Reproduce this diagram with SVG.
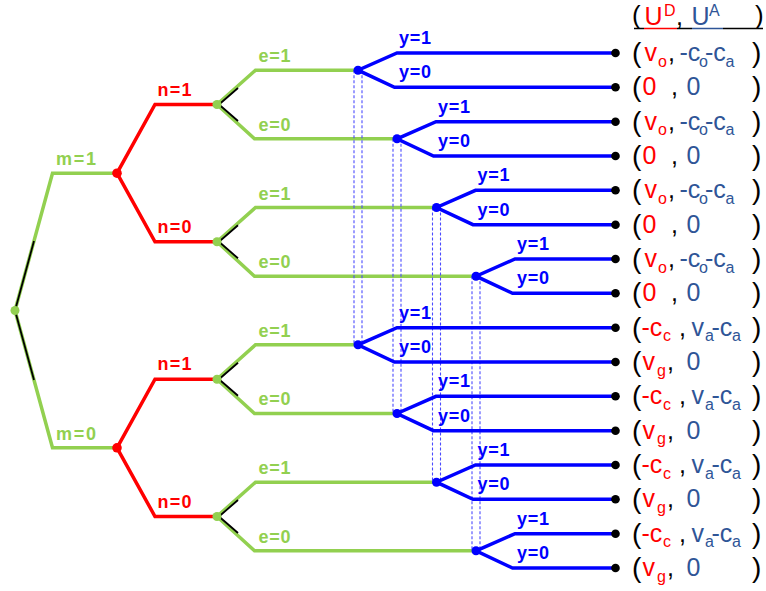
<svg xmlns="http://www.w3.org/2000/svg" width="766" height="591" viewBox="0 0 766 591">
<style>
.g{fill:none;stroke:#92D050;stroke-width:3.5;stroke-linejoin:miter}
.r{fill:none;stroke:#FF0000;stroke-width:3.5}
.b{fill:none;stroke:#0000FF;stroke-width:3.5}
.k{fill:none;stroke:#000;stroke-width:1.8}
.d{fill:none;stroke:#4B4BFF;stroke-width:1.1;stroke-dasharray:3 2}
.lbl{font-family:"Liberation Sans",Arial,sans-serif;font-weight:bold;font-size:18px}
.lg{fill:#92D050}.lr{fill:#FF0000}.lb{fill:#0000FF}
.pay{font-family:"Liberation Sans",Arial,sans-serif;font-size:25px}
.par{font-size:28px;fill:#000}
.hpar{font-size:26px;fill:#000}
.pr{fill:#FF0000}.pb{fill:#2F5597}.pk{fill:#000}
.sub{font-size:16px}
</style>
<g id="connectors">
  <path class="g" d="M15,310.5 L52.5,173.2 L117,173.2"/>
  <path class="g" d="M15,310.5 L52.5,447.8 L117,447.8"/>
  <path class="k" d="M15.5,308.7 L34,241 M15.5,312.3 L34,380"/>
  <path class="r" d="M117,173.2 L155,104.5 L217,104.5 M117,173.2 L155,241.8 L217,241.8"/>
  <path class="r" d="M117,447.8 L155,379.2 L217,379.2 M117,447.8 L155,516.5 L217,516.5"/>
  <path class="g" d="M217,104.5 L255.5,70.2 L358,70.2 M217,104.5 L254.5,138.8 L397,138.8"/>
  <path class="g" d="M217,241.8 L255.5,207.5 L436.5,207.5 M217,241.8 L254.5,276.2 L476,276.2"/>
  <path class="g" d="M217,379.2 L255.5,344.8 L358,344.8 M217,379.2 L254.5,413.5 L397,413.5"/>
  <path class="g" d="M217,516.5 L255.5,482.2 L436.5,482.2 M217,516.5 L254.5,550.8 L476,550.8"/>
  <path class="k" d="M219,104.5 L238,88 M219,104.5 L238,121"/>
  <path class="k" d="M219,241.8 L238,225.3 M219,241.8 L238,258.3"/>
  <path class="k" d="M219,379.2 L238,362.7 M219,379.2 L238,395.7"/>
  <path class="k" d="M219,516.5 L238,500 M219,516.5 L238,533"/>
  <path class="d" d="M354,70.2 V344.8 M362,70.2 V344.8"/>
  <path class="d" d="M393,138.8 V413.5 M401,138.8 V413.5"/>
  <path class="d" d="M432.5,207.5 V482.2 M440.5,207.5 V482.2"/>
  <path class="d" d="M472,276.2 V550.8 M480,276.2 V550.8"/>
  <path class="b" d="M612,53 L397,53 L358,70.2 L394.5,87.3 L612,87.3"/>
  <path class="b" d="M612,121.7 L436,121.7 L397,138.8 L433.5,156 L612,156"/>
  <path class="b" d="M612,190.3 L475.5,190.3 L436.5,207.5 L473,224.7 L612,224.7"/>
  <path class="b" d="M612,259 L515,259 L476,276.2 L512.5,293.3 L612,293.3"/>
  <path class="b" d="M612,327.7 L397,327.7 L358,344.8 L394.5,362 L612,362"/>
  <path class="b" d="M612,396.3 L436,396.3 L397,413.5 L433.5,430.7 L612,430.7"/>
  <path class="b" d="M612,465 L475.5,465 L436.5,482.2 L473,499.3 L612,499.3"/>
  <path class="b" d="M612,533.7 L515,533.7 L476,550.8 L512.5,568 L612,568"/>
  <g class="lbl lg">
    <text x="56" y="165" textLength="40">m=1</text>
    <text x="56" y="439.5" textLength="40">m=0</text>
    <text x="258.5" y="62" textLength="32">e=1</text>
    <text x="258.5" y="130.5" textLength="32">e=0</text>
    <text x="258.5" y="199.5" textLength="32">e=1</text>
    <text x="258.5" y="268" textLength="32">e=0</text>
    <text x="258.5" y="336.5" textLength="32">e=1</text>
    <text x="258.5" y="405" textLength="32">e=0</text>
    <text x="258.5" y="474" textLength="32">e=1</text>
    <text x="258.5" y="542.5" textLength="32">e=0</text>
  </g>
  <g class="lbl lr">
    <text x="157.5" y="95.5" textLength="34">n=1</text>
    <text x="157.5" y="233" textLength="34">n=0</text>
    <text x="157.5" y="370" textLength="34">n=1</text>
    <text x="157.5" y="507.5" textLength="34">n=0</text>
  </g>
  <g class="lbl lb">
    <text x="399" y="44" textLength="32">y=1</text>
    <text x="399" y="78.3" textLength="32">y=0</text>
    <text x="438" y="112.7" textLength="32">y=1</text>
    <text x="438" y="147" textLength="32">y=0</text>
    <text x="477.5" y="181.3" textLength="32">y=1</text>
    <text x="477.5" y="215.7" textLength="32">y=0</text>
    <text x="517" y="250" textLength="32">y=1</text>
    <text x="517" y="284.3" textLength="32">y=0</text>
    <text x="399" y="318.7" textLength="32">y=1</text>
    <text x="399" y="353" textLength="32">y=0</text>
    <text x="438" y="387.3" textLength="32">y=1</text>
    <text x="438" y="421.7" textLength="32">y=0</text>
    <text x="477.5" y="456" textLength="32">y=1</text>
    <text x="477.5" y="490.3" textLength="32">y=0</text>
    <text x="517" y="524.7" textLength="32">y=1</text>
    <text x="517" y="559" textLength="32">y=0</text>
  </g>
</g>
<g id="root"><circle cx="15" cy="310.5" r="4.5" fill="#92D050"/></g>
<g id="m-nodes" fill="#FF0000">
  <circle cx="117" cy="173.2" r="4.8"/>
  <circle cx="117" cy="447.8" r="4.8"/>
</g>
<g id="n-nodes" fill="#92D050">
  <circle cx="217" cy="104.5" r="4.5"/>
  <circle cx="217" cy="241.8" r="4.5"/>
  <circle cx="217" cy="379.2" r="4.5"/>
  <circle cx="217" cy="516.5" r="4.5"/>
</g>
<g id="e-nodes" fill="#0000FF">
  <circle cx="358" cy="70.2" r="4.5"/>
  <circle cx="397" cy="138.8" r="4.5"/>
  <circle cx="436.5" cy="207.5" r="4.5"/>
  <circle cx="476" cy="276.2" r="4.5"/>
  <circle cx="358" cy="344.8" r="4.5"/>
  <circle cx="397" cy="413.5" r="4.5"/>
  <circle cx="436.5" cy="482.2" r="4.5"/>
  <circle cx="476" cy="550.8" r="4.5"/>
</g>
<g id="leaves" fill="#000">
  <circle cx="615.5" cy="53" r="4.3"/>
  <circle cx="615.5" cy="87.3" r="4.3"/>
  <circle cx="615.5" cy="121.7" r="4.3"/>
  <circle cx="615.5" cy="156" r="4.3"/>
  <circle cx="615.5" cy="190.3" r="4.3"/>
  <circle cx="615.5" cy="224.7" r="4.3"/>
  <circle cx="615.5" cy="259" r="4.3"/>
  <circle cx="615.5" cy="293.3" r="4.3"/>
  <circle cx="615.5" cy="327.7" r="4.3"/>
  <circle cx="615.5" cy="362" r="4.3"/>
  <circle cx="615.5" cy="396.3" r="4.3"/>
  <circle cx="615.5" cy="430.7" r="4.3"/>
  <circle cx="615.5" cy="465" r="4.3"/>
  <circle cx="615.5" cy="499.3" r="4.3"/>
  <circle cx="615.5" cy="533.7" r="4.3"/>
  <circle cx="615.5" cy="568" r="4.3"/>
</g>
<defs>
  <g id="rowA" class="pay">
    <text class="par" x="632" y="1">(</text>
    <text class="pr" x="644.5" y="0">v</text>
    <text class="pr sub" x="658" y="5.5">o</text>
    <text class="pk" x="668" y="0">,</text>
    <text class="pb" x="679.5" y="0">-c</text>
    <text class="pb sub" x="699" y="5.5">o</text>
    <text class="pb" x="705" y="0">-c</text>
    <text class="pb sub" x="725.5" y="5.5">a</text>
    <text class="par" x="752" y="1">)</text>
  </g>
  <g id="rowB" class="pay">
    <text class="par" x="632" y="1">(</text>
    <text class="pr" x="642.5" y="0">0</text>
    <text class="pk" x="671" y="0">,</text>
    <text class="pb" x="686.5" y="0">0</text>
    <text class="par" x="752" y="1">)</text>
  </g>
  <g id="rowC" class="pay">
    <text class="par" x="632" y="1">(</text>
    <text class="pr" x="641.5" y="0">-c</text>
    <text class="pr sub" x="663" y="5.5">c</text>
    <text class="pk" x="679" y="0">,</text>
    <text class="pb" x="691.5" y="0">v</text>
    <text class="pb sub" x="705" y="5.5">a</text>
    <text class="pb" x="711.5" y="0">-c</text>
    <text class="pb sub" x="732" y="5.5">a</text>
    <text class="par" x="752" y="1">)</text>
  </g>
  <g id="rowD" class="pay">
    <text class="par" x="632" y="1">(</text>
    <text class="pr" x="642.5" y="0">v</text>
    <text class="pr sub" x="657" y="5.5">g</text>
    <text class="pk" x="667" y="0">,</text>
    <text class="pb" x="686.5" y="0">0</text>
    <text class="par" x="752" y="1">)</text>
  </g>
</defs>
<g id="payoffs">
  <g id="header" class="pay">
    <text class="hpar" x="632" y="24">(</text>
    <text class="pr" x="644.5" y="25">U</text>
    <text class="pr sub" x="664" y="16">D</text>
    <text class="pk" x="676" y="25">,</text>
    <text class="pb" x="691.5" y="25">U</text>
    <text class="pb sub" x="709" y="16">A</text>
    <text class="hpar" x="755" y="24">)</text>
    <path d="M634,28.5 H644" stroke="#000" stroke-width="1.5"/>
    <path d="M644,28.5 H677" stroke="#FF0000" stroke-width="1.5"/>
    <path d="M677,28.5 H692" stroke="#000" stroke-width="1.5"/>
    <path d="M692,28.5 H723" stroke="#2F5597" stroke-width="1.5"/>
    <path d="M723,28.5 H763" stroke="#000" stroke-width="1.5"/>
  </g>
  <use href="#rowA" y="61"/>
  <use href="#rowB" y="95.3"/>
  <use href="#rowA" y="129.7"/>
  <use href="#rowB" y="164"/>
  <use href="#rowA" y="198.3"/>
  <use href="#rowB" y="232.7"/>
  <use href="#rowA" y="267"/>
  <use href="#rowB" y="301.3"/>
  <use href="#rowC" y="335.7"/>
  <use href="#rowD" y="370"/>
  <use href="#rowC" y="404.3"/>
  <use href="#rowD" y="438.7"/>
  <use href="#rowC" y="473"/>
  <use href="#rowD" y="507.3"/>
  <use href="#rowC" y="541.7"/>
  <use href="#rowD" y="576"/>
</g>
</svg>
